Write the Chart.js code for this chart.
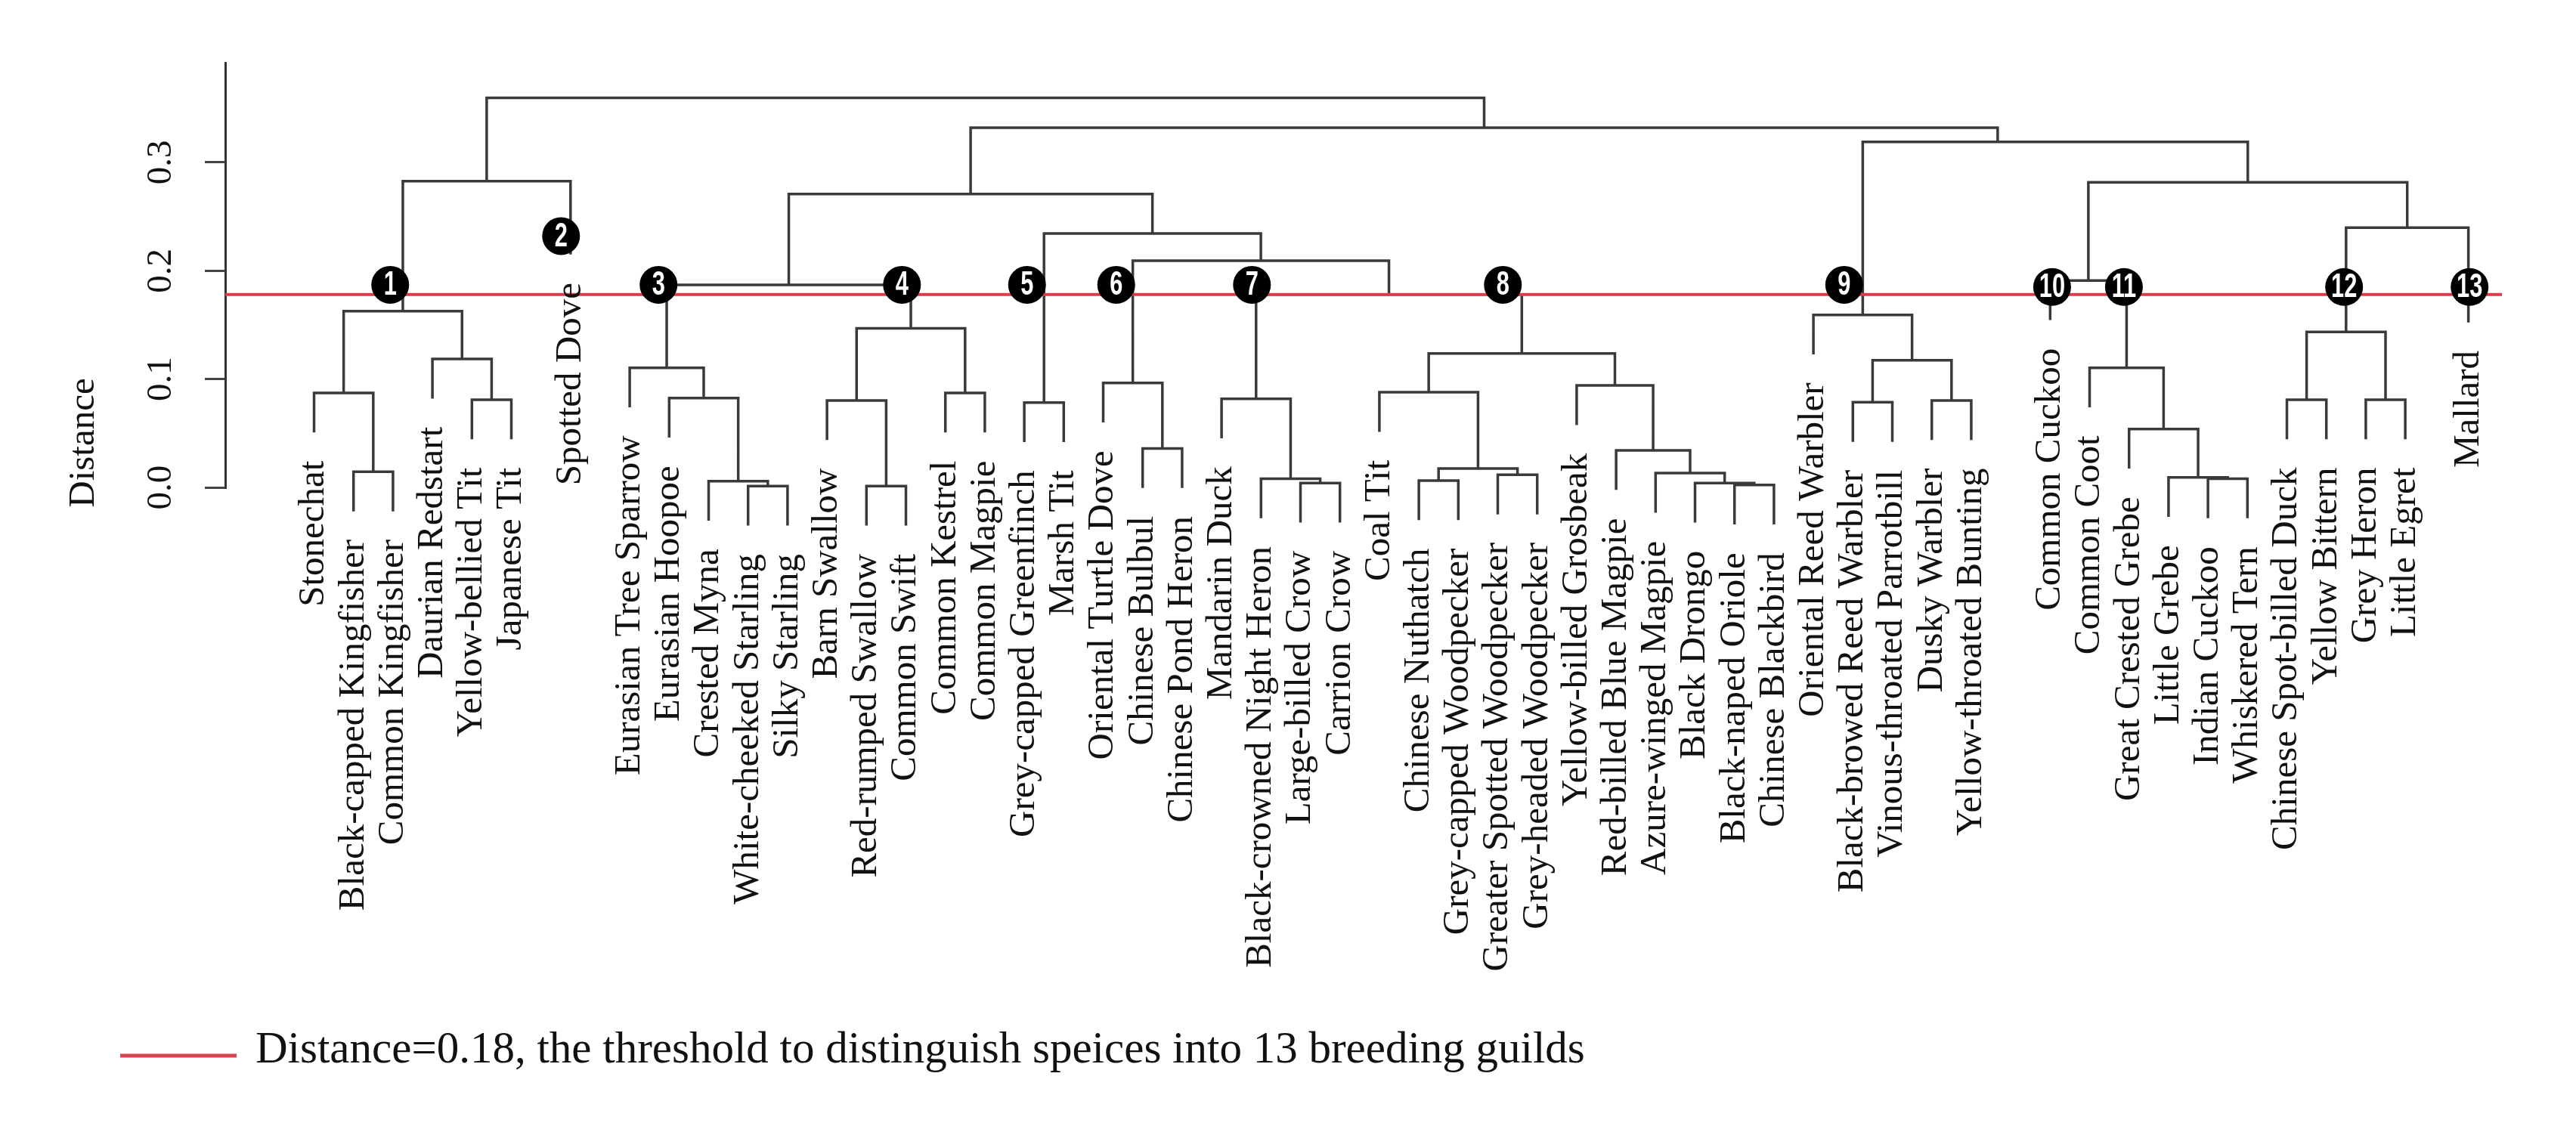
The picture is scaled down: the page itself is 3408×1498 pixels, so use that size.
<!DOCTYPE html>
<html>
<head>
<meta charset="utf-8">
<script src="https://cdn.jsdelivr.net/npm/chart.js@4.4.1/dist/chart.umd.min.js"></script>
<style>
  html, body { margin: 0; padding: 0; background: #fff; }
  #wrap { width: 3408px; height: 1498px; position: relative; }
</style>
</head>
<body>
<div id="wrap"><canvas id="tree"></canvas></div>
<script>
// leaves, left to right
const species = ['Stonechat', 'Black-capped Kingfisher', 'Common Kingfisher', 'Daurian Redstart',
  'Yellow-bellied Tit', 'Japanese Tit', 'Spotted Dove', 'Eurasian Tree Sparrow', 'Eurasian Hoopoe',
  'Crested Myna', 'White-cheeked Starling', 'Silky Starling', 'Barn Swallow', 'Red-rumped Swallow',
  'Common Swift', 'Common Kestrel', 'Common Magpie', 'Grey-capped Greenfinch', 'Marsh Tit',
  'Oriental Turtle Dove', 'Chinese Bulbul', 'Chinese Pond Heron', 'Mandarin Duck',
  'Black-crowned Night Heron', 'Large-billed Crow', 'Carrion Crow', 'Coal Tit', 'Chinese Nuthatch',
  'Grey-capped Woodpecker', 'Greater Spotted Woodpecker', 'Grey-headed Woodpecker',
  'Yellow-billed Grosbeak', 'Red-billed Blue Magpie', 'Azure-winged Magpie', 'Black Drongo',
  'Black-naped Oriole', 'Chinese Blackbird', 'Oriental Reed Warbler', 'Black-browed Reed Warbler',
  'Vinous-throated Parrotbill', 'Dusky Warbler', 'Yellow-throated Bunting', 'Common Cuckoo',
  'Common Coot', 'Great Crested Grebe', 'Little Grebe', 'Indian Cuckoo', 'Whiskered Tern',
  'Chinese Spot-billed Duck', 'Yellow Bittern', 'Grey Heron', 'Little Egret', 'Mallard'];

// leaf positions on the x axis (the figure has a few gaps)
const leafPos = [1, 2, 3, 4, 5, 6, 7.5, 9, 10, 11, 12, 13, 14, 15, 16, 17, 18, 19, 20, 21, 22, 23,
  24, 25, 26, 27, 28, 29, 30, 31, 32, 33, 34, 35, 36, 37, 38, 39, 40, 41, 42, 43,
  45, 46, 47, 48, 49, 50, 51, 52, 53, 54, 55.6];

// merges like hclust: negative = leaf number, positive = earlier merge row; then height
const merges = [
  [-2, -3, 0.0144], [-1, 1, 0.0872], [-5, -6, 0.0809], [-4, 3, 0.1185], [2, 4, 0.1627],
  [5, -7, 0.2826],
  [-11, -12, 0.0012], [-10, 7, 0.0058], [-9, 8, 0.0825], [-8, 9, 0.1104],
  [-14, -15, 0.0012], [-13, 11, 0.0802], [-16, -17, 0.0872], [12, 13, 0.1469],
  [10, 14, 0.187],
  [-18, -19, 0.0783],
  [-21, -22, 0.036], [-20, 17, 0.0965],
  [-25, -26, 0.004], [-24, 19, 0.0081], [-23, 20, 0.0818],
  [-28, -29, 0.0063], [-30, -31, 0.0116], [22, 23, 0.0174], [-27, 24, 0.0878],
  [-36, -37, 0.0023], [-35, 26, 0.004], [-34, 27, 0.0132], [-33, 28, 0.0342], [-32, 29, 0.0941],
  [25, 30, 0.1237],
  [21, 31, 0.178], [18, 32, 0.2092], [16, 33, 0.2343], [15, 34, 0.2708],
  [-39, -40, 0.0786], [-41, -42, 0.0802], [36, 37, 0.1174], [-38, 38, 0.1592],
  [-47, -48, 0.008], [-46, 40, 0.0093], [-45, 41, 0.0539], [-44, 42, 0.1104], [-43, 43, 0.191],
  [-49, -50, 0.0809], [-51, -52, 0.0809], [45, 46, 0.1435], [47, -53, 0.2397],
  [44, 48, 0.2817],
  [39, 49, 0.319],
  [35, 50, 0.3321],
  [6, 51, 0.3595]
];
// the figure was edited by hand in a few places
const nodeXFix = { 50: 43.67 };
const leafEndFix = { 7: 0.215, 53: 0.1523 };
const hang = 0.0365;
const labelGap = 0.026;

const threshold = 0.178;
const guildNo = ['1', '2', '3', '4', '5', '6', '7', '8', '9', '10', '11', '12', '13'];
const guildX = [2.93, 7.26, 9.73, 15.9, 19.07, 21.33, 24.77, 31.13, 39.78, 45.05, 46.87, 52.45, 55.63];
const guildY = [0.187, 0.232, 0.187, 0.187, 0.187, 0.187, 0.187, 0.187, 0.187, 0.185, 0.185, 0.185, 0.185];

const yTicks = [0, 0.1, 0.2, 0.3];
const xMin = -1.251, xMax = 56.45;
const yMax = 0.392;

// build the tree outline
const nodeX = [], nodeH = [];
const leafEnd = new Array(species.length);
const treePts = [];
merges.forEach((m, i) => {
  const [a, b, h] = m;
  const xs = [a, b].map(c => c < 0 ? leafPos[-c - 1] : nodeX[c - 1]);
  const ends = [a, b].map(c => {
    if (c > 0) return nodeH[c - 1];
    const e = leafEndFix[-c] !== undefined ? leafEndFix[-c] : h - hang;
    leafEnd[-c - 1] = e;
    return e;
  });
  nodeX[i] = nodeXFix[i + 1] !== undefined ? nodeXFix[i + 1] : (xs[0] + xs[1]) / 2;
  nodeH[i] = h;
  treePts.push({x: xs[0], y: ends[0]}, {x: xs[0], y: h}, {x: xs[1], y: h}, {x: xs[1], y: ends[1]},
    {x: xs[1], y: null});
});

const serif = '"Liberation Serif", "Times New Roman", serif';

const dendroText = {
  id: 'dendroText',
  afterDatasetsDraw(chart) {
    const ctx = chart.ctx;
    const xs = chart.scales.x, ys = chart.scales.y;
    const area = chart.chartArea;
    ctx.save();
    ctx.fillStyle = '#111';

    // leaf labels
    ctx.font = '49px ' + serif;
    ctx.textAlign = 'right';
    ctx.textBaseline = 'middle';
    species.forEach((s, i) => {
      ctx.save();
      ctx.translate(xs.getPixelForValue(leafPos[i]), ys.getPixelForValue(leafEnd[i] - labelGap));
      ctx.rotate(-Math.PI / 2);
      ctx.fillText(s, 0, 0);
      ctx.restore();
    });

    // y tick labels
    ctx.font = '47px ' + serif;
    ctx.textAlign = 'center';
    yTicks.forEach(v => {
      ctx.save();
      ctx.translate(area.left - 84, ys.getPixelForValue(v));
      ctx.rotate(-Math.PI / 2);
      ctx.fillText(v.toFixed(1), 0, 0);
      ctx.restore();
    });

    // y title
    ctx.font = '49px ' + serif;
    ctx.save();
    ctx.translate(area.left - 187, area.bottom - 59);
    ctx.rotate(-Math.PI / 2);
    ctx.fillText('Distance', 0, 0);
    ctx.restore();

    // guild numbers
    const meta = chart.getDatasetMeta(0);
    ctx.fillStyle = '#fff';
    ctx.font = 'bold 44px "Liberation Sans", Arial, sans-serif';
    meta.data.forEach((pt, i) => {
      ctx.save();
      ctx.translate(pt.x, pt.y + 1);
      ctx.scale(0.7, 1);
      ctx.fillText(guildNo[i], 0, 0);
      ctx.restore();
    });

    // legend
    ctx.strokeStyle = '#d9434f';
    ctx.lineWidth = 5;
    ctx.beginPath();
    ctx.moveTo(159, 1397);
    ctx.lineTo(313, 1397);
    ctx.stroke();
    ctx.fillStyle = '#111';
    ctx.font = '59px ' + serif;
    ctx.textAlign = 'left';
    ctx.textBaseline = 'alphabetic';
    ctx.fillText('Distance=0.18, the threshold to distinguish speices into 13 breeding guilds', 338, 1406);
    ctx.restore();
  }
};

new Chart(document.getElementById('tree'), {
  type: 'scatter',
  data: {
    datasets: [
      {
        label: 'guilds',
        data: guildX.map((x, i) => ({x: x, y: guildY[i]})),
        pointRadius: 25,
        pointHoverRadius: 25,
        backgroundColor: '#000',
        borderWidth: 0,
        order: 1,
        clip: false
      },
      {
        label: 'Distance=0.18',
        data: [{x: xMin, y: threshold}, {x: xMax, y: threshold}],
        showLine: true,
        borderColor: '#dc3c47',
        borderWidth: 4,
        pointRadius: 0,
        order: 2
      },
      {
        label: 'tree',
        data: treePts,
        showLine: true,
        spanGaps: false,
        borderColor: '#3a3a3a',
        borderWidth: 3.5,
        pointRadius: 0,
        order: 3,
        clip: false
      }
    ]
  },
  options: {
    responsive: true,
    maintainAspectRatio: false,
    animation: false,
    devicePixelRatio: 1,
    events: [],
    layout: { padding: { top: 83, right: 98, bottom: 853, left: 0 } },
    plugins: { legend: { display: false }, tooltip: { enabled: false } },
    scales: {
      x: { type: 'linear', display: false, min: xMin, max: xMax },
      y: {
        type: 'linear',
        min: 0,
        max: yMax,
        afterFit(scale) { scale.width = 298; },
        afterBuildTicks(scale) { scale.ticks = yTicks.map(v => ({value: v})); },
        ticks: { display: false },
        border: { display: true, color: '#333', width: 3 },
        grid: { drawOnChartArea: false, drawTicks: true, tickLength: 27, color: '#444', lineWidth: 3 }
      }
    }
  },
  plugins: [dendroText]
});
</script>
</body>
</html>
